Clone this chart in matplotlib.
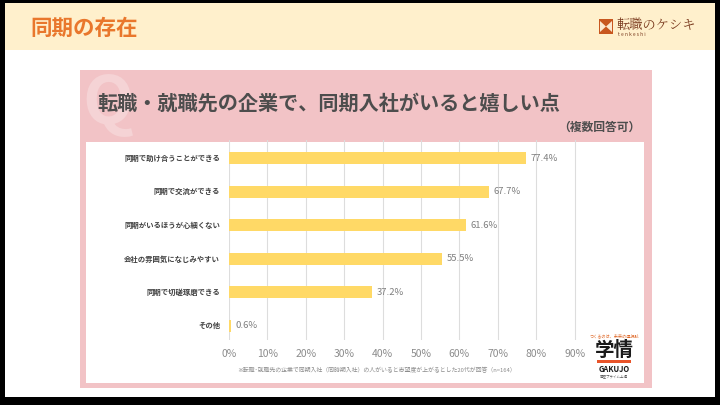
import matplotlib
matplotlib.use("Agg")
import matplotlib.pyplot as plt
from matplotlib.patches import Rectangle, Polygon

plt.rcParams['font.family'] = ['Noto Sans CJK JP', 'DejaVu Sans']

categories = ["同期で助け合うことができる", "同期で交流ができる", "同期がいるほうが心細くない",
              "会社の雰囲気になじみやすい", "同期で切磋琢磨できる", "その他"]
values = [77.4, 67.7, 61.6, 55.5, 37.2, 0.6]
ticks = [0, 10, 20, 30, 40, 50, 60, 70, 80, 90]

W, H = 720, 405
fig = plt.figure(figsize=(W / 100, H / 100), dpi=100)
fig.patch.set_facecolor("black")


def px(x, y):
    return x / W, 1 - y / H


def rect(x0, y0, x1, y1, color, z=0):
    fig.patches.append(Rectangle((x0 / W, 1 - y1 / H), (x1 - x0) / W, (y1 - y0) / H,
                                 transform=fig.transFigure, facecolor=color,
                                 edgecolor="none", zorder=z))


# slide background
rect(5, 3, 715, 397, "white", -3)
rect(5, 3, 715, 50, "#FFF0CC", -2)
fig.text(*px(30, 28), "同期の存在", color="#E9772C", fontsize=15.5, fontweight="bold",
         va="center", ha="left")

# tenkeshi logo
rect(599, 19, 613, 34, "#C8571F", 1)
fig.patches.append(Polygon([px(600, 21), px(606, 26.5), px(600, 32)], closed=True,
                           transform=fig.transFigure, facecolor="#FCE9D0", edgecolor="none", zorder=2))
fig.patches.append(Polygon([px(612, 21), px(606, 26.5), px(612, 32)], closed=True,
                           transform=fig.transFigure, facecolor="#FCE9D0", edgecolor="none", zorder=2))
fig.text(*px(616, 25), "転職のケシキ", color="#7A3A1E", fontsize=9.5, va="center", ha="left",
         family=["Noto Serif CJK JP", "Noto Sans CJK JP"])
fig.text(*px(618, 35), "t e n k e s h i", color="#7A3A1E", fontsize=3.5, va="center", ha="left")

# pink panel
rect(80, 70, 652, 388, "#F2C3C6", -2)
rect(86, 142, 644, 383, "white", -1)
fig.text(*px(82, 104), "Q", color="#F5D3D5", fontsize=48, fontweight="bold",
         va="center", ha="left", zorder=-1)
fig.text(*px(97, 103), "転職・就職先の企業で、同期入社がいると嬉しい点", color="#4D4D4D",
         fontsize=14.5, fontweight="bold", va="center", ha="left", zorder=2)
fig.text(*px(640, 127), "（複数回答可）", color="#4D4D4D", fontsize=8.5, fontweight="bold",
         va="center", ha="right", zorder=2)

# chart
ax = fig.add_axes([229 / W, 1 - 340 / H, (613 - 229) / W, 200 / H])
ax.set_zorder(5)
ax.set_facecolor("none")
ypos = list(range(len(categories)))
ax.barh(ypos, values, height=0.36, color="#FFD966", zorder=3)
ax.set_xlim(0, 100)
ax.set_ylim(5.42, -0.54)
for t in ticks:
    ax.axvline(t, color="#DDDDDD", lw=0.8, zorder=1)
ax.set_xticks([])
ax.set_yticks([])
for s in ax.spines.values():
    s.set_visible(False)
for i, (c, v) in enumerate(zip(categories, values)):
    ax.text(-2.3, i, c, ha="right", va="center", fontsize=5.3, color="#404040", fontweight="bold",
            clip_on=False)
    ax.text(v + 1.2, i, f"{v:.1f}%", ha="left", va="center", fontsize=6.8, color="#7F7F7F")
for t in ticks:
    ax.text(t, 5.85, f"{t}%", ha="center", va="center", fontsize=7.5, color="#8C8C8C",
            clip_on=False)

fig.text(*px(237, 370), "※転職･就職先の企業で同期入社（同時期入社）の人がいると志望度が上がるとした20代が回答（n=164）",
         color="#8C8C8C", fontsize=4.25, va="center", ha="left")

# GAKUJO logo
fig.text(*px(614, 336), "つくるのは、未来の選択肢", color="#E06A2A", fontsize=3, va="center", ha="center")
fig.text(*px(614, 350), "学情", color="#1A1A1A", fontsize=14, fontweight="bold", va="center", ha="center")
rect(597, 360, 631, 362.5, "#E8542A", 3)
fig.text(*px(614, 369), "GAKUJO", color="#1A1A1A", fontsize=5.5, fontweight="bold", va="center", ha="center")
fig.text(*px(614, 376), "東証プライム上場", color="#555555", fontsize=2.5, va="center", ha="center")

fig.savefig("out.png", dpi=100, facecolor=fig.get_facecolor())
